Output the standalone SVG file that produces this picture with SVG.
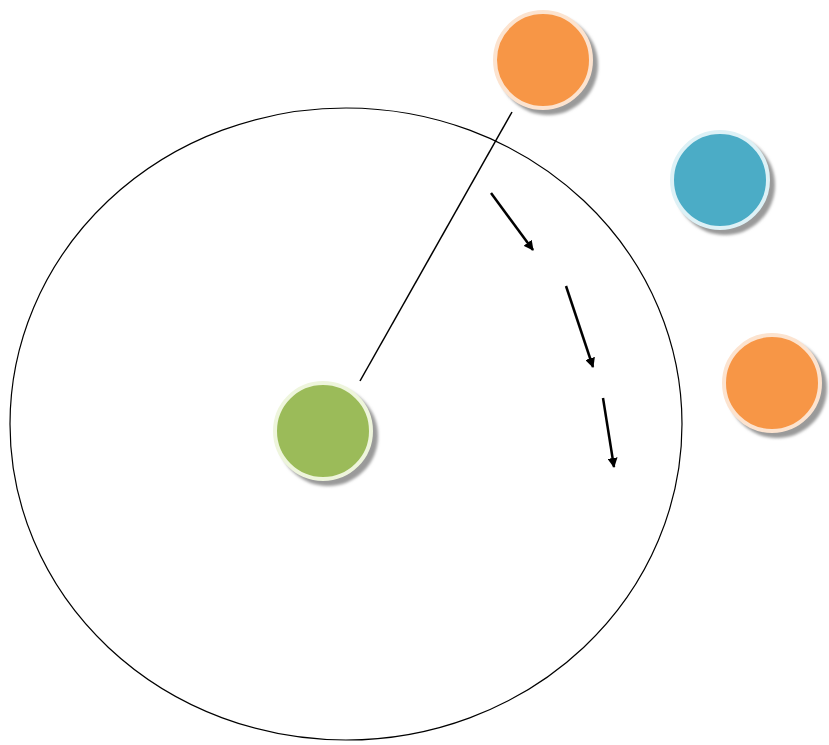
<svg xmlns="http://www.w3.org/2000/svg" width="829" height="745" viewBox="0 0 829 745">
<defs>
<marker id="ah" viewBox="0 0 10 10" refX="9" refY="5" markerWidth="4" markerHeight="4" orient="auto" markerUnits="strokeWidth">
<path d="M0,0 L10,5 L0,10 z" fill="#000"/>
</marker>
<filter id="blur" x="-20%" y="-20%" width="140%" height="140%"><feGaussianBlur stdDeviation="1.5"/></filter>
</defs>
<style>
.ring{fill:none;stroke:#000;stroke-width:1.2}
.shadow{fill:#9a9a9a;filter:url(#blur)}
.rim{stroke-width:4}
.conn{stroke:#000;stroke-width:1.5;fill:none}
.arr{stroke:#000;stroke-width:2.5;fill:none;marker-end:url(#ah)}
</style>
<rect width="829" height="745" fill="#fff"/>
<ellipse class="ring" cx="346" cy="424" rx="336" ry="316"/>
<g id="connectors">
<line class="conn" x1="512" y1="112" x2="360" y2="381"/>
<line class="arr" x1="491" y1="193" x2="533" y2="250"/>
<line class="arr" x1="566" y1="286" x2="593" y2="367"/>
<line class="arr" x1="603" y1="398" x2="614" y2="467"/>
</g>
<g id="orange-top">
<circle class="shadow" cx="548" cy="65" r="50"/>
<circle class="rim" cx="543" cy="60" r="48" fill="#F79646" stroke="#FCE3CF"/>
</g>
<g id="blue">
<circle class="shadow" cx="725" cy="185" r="50"/>
<circle class="rim" cx="720" cy="180" r="48" fill="#4BACC6" stroke="#DDF1F6"/>
</g>
<g id="orange-right">
<circle class="shadow" cx="777" cy="388" r="50"/>
<circle class="rim" cx="772" cy="383" r="48" fill="#F79646" stroke="#FCE3CF"/>
</g>
<g id="green">
<circle class="shadow" cx="328" cy="436" r="50"/>
<circle class="rim" cx="323" cy="431" r="48" fill="#9BBB59" stroke="#EEF5DC"/>
</g>
</svg>
